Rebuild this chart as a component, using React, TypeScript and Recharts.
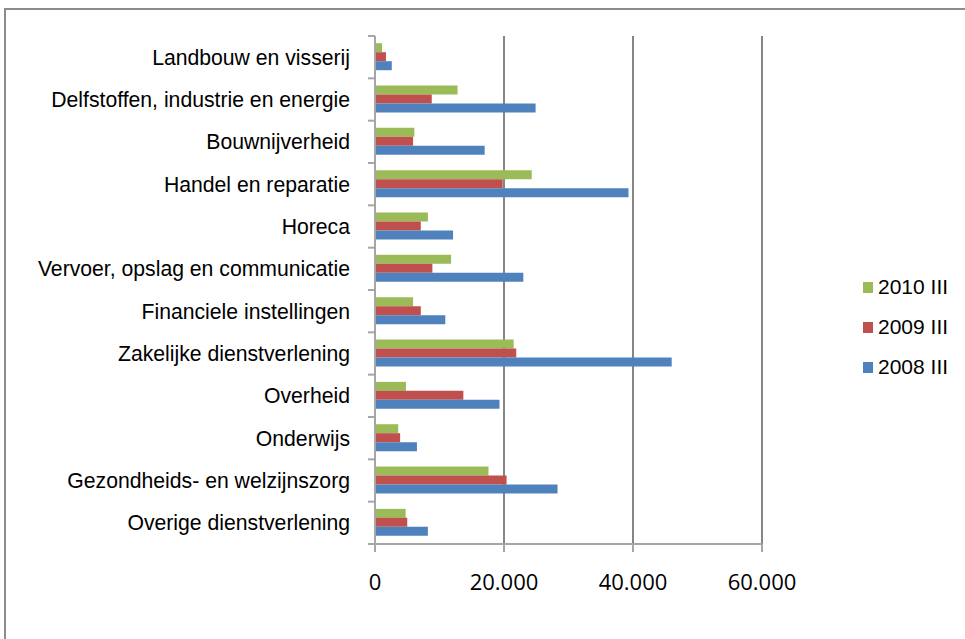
import { BarChart, Bar, XAxis, YAxis, CartesianGrid } from "recharts"

const categories = [
    "Landbouw en visserij",
    "Delfstoffen, industrie en energie",
    "Bouwnijverheid",
    "Handel en reparatie",
    "Horeca",
    "Vervoer, opslag en communicatie",
    "Financiele instellingen",
    "Zakelijke dienstverlening",
    "Overheid",
    "Onderwijs",
    "Gezondheids- en welzijnszorg",
    "Overige dienstverlening",
]
const v2010 = [1100, 12800, 6100, 24300, 8200, 11800, 5900, 21500, 4800, 3600, 17600, 4750]
const v2009 = [1700, 8800, 5900, 19800, 7100, 8900, 7100, 21900, 13700, 3900, 20400, 5000]
const v2008 = [2600, 24900, 17000, 39300, 12100, 23000, 10900, 46000, 19300, 6500, 28300, 8200]
const xTicks = [0, 20000, 40000, 60000]

const series = [
    { key: "y2010", name: "2010 III", color: "#9BBB59" },
    { key: "y2009", name: "2009 III", color: "#C0504D" },
    { key: "y2008", name: "2008 III", color: "#4F81BD" },
]

const data = categories.map((c, i) => ({ c, y2010: v2010[i], y2009: v2009[i], y2008: v2008[i] }))

const W = 965
const H = 639
const M = { top: 36, right: 203, bottom: 35, left: 15 }
const X_AXIS_H = 60
const PLOT_H = H - M.top - M.bottom - X_AXIS_H
const BAND = PLOT_H / categories.length

const AXIS_GRAY = "#a6a6a6"
const SANS = "'Liberation Sans', Arial, sans-serif"

function CatTick(props: any) {
    const { x, y, payload, index } = props
    return (
        <g>
            <line x1={x - 7} x2={x} y1={y - BAND / 2} y2={y - BAND / 2} stroke={AXIS_GRAY} strokeWidth={2} />
            {index === categories.length - 1 && (
                <line x1={x - 7} x2={x} y1={y + BAND / 2} y2={y + BAND / 2} stroke={AXIS_GRAY} strokeWidth={2} />
            )}
            <text x={x - 25} y={y} dy="0.35em" textAnchor="end" fontSize={21.2}
                fontFamily={SANS} fill="#000">
                {payload.value}
            </text>
        </g>
    )
}

export default function App() {
    return (
        <div style={{ position: "absolute", left: 0, top: 0, width: W, height: H, overflow: "hidden", background: "#fff" }}>
            <div style={{
                position: "absolute", left: 4, top: 8, width: 1100, height: 800,
                border: "2px solid #8c8c8c", boxSizing: "border-box",
            }} />
            <div style={{ position: "absolute", left: 0, top: 0 }}>
                <BarChart width={W} height={H} data={data} layout="vertical" margin={M}
                    barCategoryGap="17%" barGap={0}>
                    <CartesianGrid horizontal={false} stroke="#868686" strokeWidth={2} />
                    <XAxis type="number" domain={[0, 60000]} ticks={xTicks} height={X_AXIS_H}
                        tickFormatter={(v) => v.toLocaleString("de-DE")}
                        stroke={AXIS_GRAY} strokeWidth={2} tickSize={8} tickMargin={22}
                        tick={{ fill: "#000", fontSize: 22, fontFamily: "'Open Sans', sans-serif" }} />
                    <YAxis type="category" dataKey="c" width={360} tickSize={0} tickMargin={0}
                        tickLine={false} interval={0} stroke={AXIS_GRAY} strokeWidth={2}
                        tick={<CatTick />} />
                    {series.map((s) => (
                        <Bar key={s.key} dataKey={s.key} name={s.name} fill={s.color} isAnimationActive={false} />
                    ))}
                </BarChart>
            </div>
            <div style={{ position: "absolute", left: 863, top: 267, fontFamily: SANS, fontSize: 21, color: "#000" }}>
                {series.map((s) => (
                    <div key={s.key} style={{ display: "flex", alignItems: "center", height: 40 }}>
                        <span style={{ width: 10, height: 11, background: s.color, marginRight: 5, display: "inline-block" }} />
                        <span>{s.name}</span>
                    </div>
                ))}
            </div>
        </div>
    )
}
